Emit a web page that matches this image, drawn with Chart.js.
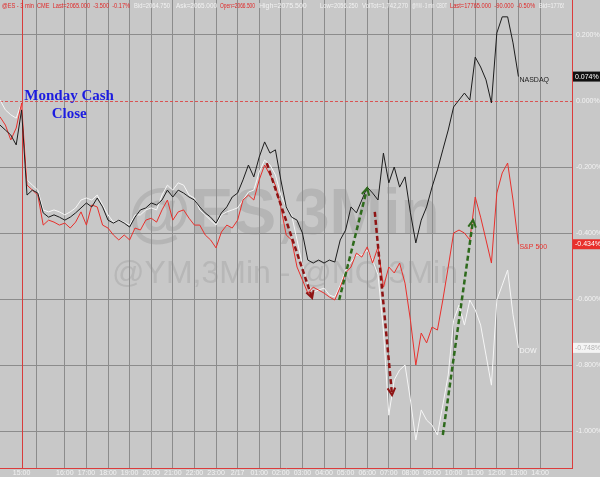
<!DOCTYPE html>
<html>
<head>
<meta charset="utf-8">
<script src="https://cdn.jsdelivr.net/npm/chart.js@4.4.1/dist/chart.umd.min.js"></script>
<style>
  html, body { margin: 0; padding: 0; background: #c8c8c8; overflow: hidden; }
  canvas { display: block; }
</style>
</head>
<body>
<canvas id="chart" width="600" height="477"></canvas>
<script>
// 3-minute bar index from the start of the window
const bars = [
  0, 5, 10, 15, 20, 25, 30, 35, 40, 45, 50, 55, 60, 65, 70, 75, 80, 85, 90, 95,
  100, 105, 110, 115, 120, 125, 130, 135, 140, 145, 150, 155, 160, 165, 170, 175, 180, 185, 190, 195,
  200, 205, 210, 215, 220, 225, 230, 235, 240, 245, 250, 255, 260, 265, 270, 275, 280, 285, 290, 295,
  300, 305, 310, 315, 320, 325, 330, 335, 340, 345, 350, 355, 360, 365, 370, 375, 380, 385, 390, 395,
  400, 405, 410, 415, 420, 425, 430, 435, 440, 445, 450, 455, 460, 465, 470, 475, 480
];

// % change
const nasdaq = [
  -0.073, -0.088, -0.103, -0.133, -0.027, -0.285, -0.270, -0.279, -0.339, -0.352,
  -0.345, -0.352, -0.361, -0.352, -0.339, -0.324, -0.309, -0.321, -0.294, -0.321,
  -0.361, -0.370, -0.361, -0.370, -0.382, -0.352, -0.330, -0.324, -0.309, -0.315,
  -0.300, -0.270, -0.291, -0.270, -0.279, -0.291, -0.300, -0.321, -0.339, -0.352,
  -0.370, -0.339, -0.321, -0.291, -0.279, -0.239, -0.194, -0.230, -0.170, -0.124,
  -0.158, -0.148, -0.239, -0.321, -0.352, -0.361, -0.400, -0.482, -0.491, -0.482,
  -0.491, -0.482, -0.488, -0.421, -0.391, -0.321, -0.339, -0.300, -0.261, -0.279,
  -0.300, -0.158, -0.248, -0.200, -0.261, -0.230, -0.339, -0.430, -0.361, -0.321,
  -0.261, -0.209, -0.148, -0.088, -0.018, 0.003, 0.024, 0.003, 0.133, 0.103,
  0.064, -0.006, 0.206, 0.255, 0.255, 0.176, 0.074
];

const sp500 = [
  -0.048, -0.073, -0.118, -0.082, -0.006, -0.255, -0.270, -0.285, -0.376, -0.361,
  -0.367, -0.376, -0.370, -0.385, -0.367, -0.336, -0.376, -0.315, -0.321, -0.376,
  -0.385, -0.406, -0.421, -0.406, -0.421, -0.385, -0.391, -0.361, -0.355, -0.367,
  -0.330, -0.300, -0.361, -0.336, -0.330, -0.355, -0.376, -0.376, -0.406, -0.421,
  -0.445, -0.397, -0.376, -0.385, -0.361, -0.300, -0.285, -0.300, -0.239, -0.194,
  -0.224, -0.255, -0.321, -0.406, -0.421, -0.503, -0.542, -0.582, -0.564, -0.573,
  -0.582, -0.594, -0.603, -0.564, -0.521, -0.503, -0.461, -0.473, -0.442, -0.491,
  -0.442, -0.564, -0.503, -0.521, -0.491, -0.552, -0.664, -0.800, -0.703, -0.733,
  -0.685, -0.694, -0.603, -0.503, -0.400, -0.391, -0.400, -0.421, -0.291, -0.352,
  -0.421, -0.491, -0.279, -0.218, -0.188, -0.300, -0.434
];

const dow = [
  0.003, -0.027, -0.042, -0.052, -0.006, -0.239, -0.255, -0.270, -0.330, -0.336,
  -0.330, -0.336, -0.345, -0.336, -0.324, -0.300, -0.294, -0.300, -0.285, -0.315,
  -0.345, -0.367, -0.361, -0.367, -0.376, -0.345, -0.345, -0.330, -0.324, -0.330,
  -0.285, -0.255, -0.270, -0.248, -0.255, -0.285, -0.294, -0.330, -0.345, -0.361,
  -0.376, -0.345, -0.336, -0.330, -0.324, -0.300, -0.276, -0.270, -0.215, -0.179,
  -0.194, -0.224, -0.285, -0.321, -0.345, -0.421, -0.497, -0.558, -0.579, -0.573,
  -0.567, -0.588, -0.594, -0.558, -0.512, -0.488, -0.467, -0.467, -0.452, -0.482,
  -0.527, -0.694, -0.952, -0.845, -0.815, -0.800, -0.906, -1.027, -0.936, -0.967,
  -0.982, -1.012, -0.921, -0.830, -0.664, -0.618, -0.679, -0.603, -0.633, -0.679,
  -0.770, -0.861, -0.603, -0.558, -0.512, -0.648, -0.748
];

const seriesNames = ['NASDAQ', 'S&P 500', 'DOW'];
const seriesColors = ['#1c1c1c', '#e8302c', '#f6f6f6'];
const lastLabels = ['0.074%', '-0.434%', '-0.748%'];

const xTickBars = [20, 34, 60, 80, 100, 120, 140, 160, 180, 200, 220, 240, 260, 280, 300, 320, 340, 360, 380, 400, 420, 440, 460, 480, 500];
const xTickLabels = ['15:00', '', '16:00', '17:00', '18:00', '19:00', '20:00', '21:00', '22:00', '23:00', '2/17', '01:00', '02:00', '03:00',
  '04:00', '05:00', '06:00', '07:00', '08:00', '09:00', '10:00', '11:00', '12:00', '13:00', '14:00'];
const yTicks = [0.2, 0, -0.2, -0.4, -0.6, -0.8, -1.0];
const cashCloseBar = 20;

// [text, colour, left, right]
const headerRuns = [
  ['@ES - 3 min  CME  Last=2065.000  -3.500  -0.17%', '#e02828', 2, 130],
  ['Bid=2064.750', '#f2f2f2', 134, 170],
  ['Ask=2065.000', '#f2f2f2', 176, 217],
  ['Open=2066.500', '#e02828', 220, 255],
  ['High=2075.500', '#f2f2f2', 259, 315],
  ['Low=2056.250', '#f2f2f2', 320, 358],
  ['VolTot=1,742,270', '#f2f2f2', 362, 408],
  ['@YM - 3 min  CBOT', '#f2f2f2', 412, 447],
  ['Last=17765.000  -90.000  -0.50%', '#e02828', 450, 535],
  ['Bid=17765.000', '#f2f2f2', 539, 577]
];

// arrows: [fromBar, fromPct, toBar, toPct, color]
const arrows = [
  [247, -0.188, 289, -0.597, '#8e1414'],
  [314, -0.603, 340, -0.264, '#2e6a1c'],
  [347, -0.336, 363, -0.891, '#8e1414'],
  [410, -1.012, 438, -0.361, '#2e6a1c']
];

const pts = (vals) => bars.map((b, i) => ({ x: b, y: vals[i] }));

const decor = {
  id: 'decor',
  beforeDraw(chart) {
    const c = chart.ctx;
    c.save();
    c.fillStyle = '#c8c8c8';
    c.fillRect(0, 0, chart.width, chart.height);
    c.textAlign = 'center';
    c.textBaseline = 'alphabetic';
    c.fillStyle = '#b5b5b5';
    c.font = 'bold 64px "Liberation Sans", Arial, sans-serif';
    c.fillText('@ES,3Min', 284, 234);
    c.fillStyle = '#b7b7b7';
    c.font = '32px "Liberation Sans", Arial, sans-serif';
    c.fillText('@YM,3Min - @NQ,3Min', 285, 283);
    c.restore();
  },
  beforeDatasetsDraw(chart) {
    const c = chart.ctx, a = chart.chartArea;
    const y0 = Math.round(chart.scales.y.getPixelForValue(0)) + 0.5;
    const xc = Math.round(chart.scales.x.getPixelForValue(cashCloseBar)) + 0.5;
    c.save();
    c.strokeStyle = '#d83c3c';
    c.lineWidth = 1;
    c.beginPath();
    c.moveTo(xc, a.top);
    c.lineTo(xc, a.bottom);
    c.stroke();
    c.strokeStyle = 'rgba(220,70,70,0.9)';
    c.setLineDash([3, 2]);
    c.beginPath();
    c.moveTo(a.left, y0);
    c.lineTo(a.right, y0);
    c.stroke();
    c.restore();
  },
  afterDraw(chart) {
    const c = chart.ctx, xs = chart.scales.x, ys = chart.scales.y, a = chart.chartArea;
    c.save();

    // header
    c.save();
    c.beginPath();
    c.rect(0, 0, 564, 12);
    c.clip();
    c.font = '7px "Liberation Sans", Arial, sans-serif';
    c.textBaseline = 'middle';
    c.textAlign = 'left';
    headerRuns.forEach(([t, col, x0, x1]) => {
      c.fillStyle = col;
      c.fillText(t, x0, 6, x1 - x0);
    });
    c.restore();

    // annotation text
    c.fillStyle = '#1c1ce0';
    c.font = 'bold 15px "Liberation Serif", "Times New Roman", serif';
    c.textAlign = 'center';
    c.textBaseline = 'alphabetic';
    const tx = xs.getPixelForValue(64);
    c.fillText('Monday Cash', tx, 100);
    c.fillText('Close', tx, 118);

    // arrows
    arrows.forEach(([b0, v0, b1, v1, col]) => {
      const x0 = xs.getPixelForValue(b0), y0 = ys.getPixelForValue(v0);
      const x1 = xs.getPixelForValue(b1), y1 = ys.getPixelForValue(v1);
      const ang = Math.atan2(y1 - y0, x1 - x0);
      c.strokeStyle = col;
      c.lineWidth = 2.5;
      c.setLineDash([5, 3]);
      c.beginPath();
      c.moveTo(x0, y0);
      c.lineTo(x1, y1);
      c.stroke();
      c.setLineDash([]);
      c.lineWidth = 2;
      c.beginPath();
      c.moveTo(x1 - 8 * Math.cos(ang - 0.5), y1 - 8 * Math.sin(ang - 0.5));
      c.lineTo(x1, y1);
      c.lineTo(x1 - 8 * Math.cos(ang + 0.5), y1 - 8 * Math.sin(ang + 0.5));
      c.stroke();
    });

    // series end labels and value boxes
    const lasts = [nasdaq, sp500, dow].map(s => s[s.length - 1]);
    c.font = '7px "Liberation Sans", Arial, sans-serif';
    c.textBaseline = 'middle';
    lasts.forEach((v, i) => {
      const y = ys.getPixelForValue(v);
      c.textAlign = 'left';
      c.fillStyle = i === 2 ? '#f4f4f4' : seriesColors[i];
      c.fillText(seriesNames[i], xs.getPixelForValue(bars[bars.length - 1]) + 1, y + 3);
      const bg = ['#111111', '#e8302c', '#f4f4f4'][i];
      const fg = ['#ffffff', '#ffffff', '#b4b4b4'][i];
      c.fillStyle = bg;
      c.fillRect(a.right + 1, y - 5, 27, 10);
      c.fillStyle = fg;
      c.fillText(lastLabels[i], a.right + 3, y);
    });
    c.restore();
  }
};

new Chart(document.getElementById('chart'), {
  type: 'line',
  data: {
    datasets: [
      { label: seriesNames[0], data: pts(nasdaq), borderColor: seriesColors[0], borderWidth: 1, pointRadius: 0, tension: 0 },
      { label: seriesNames[1], data: pts(sp500), borderColor: seriesColors[1], borderWidth: 1, pointRadius: 0, tension: 0 },
      { label: seriesNames[2], data: pts(dow), borderColor: seriesColors[2], borderWidth: 1, pointRadius: 0, tension: 0 }
    ]
  },
  options: {
    responsive: false,
    devicePixelRatio: 1,
    animation: false,
    layout: { padding: 0 },
    plugins: { legend: { display: false }, tooltip: { enabled: false } },
    scales: {
      x: {
        type: 'linear',
        min: 0,
        max: 529.6,
        afterBuildTicks: (s) => { s.ticks = xTickBars.map(v => ({ value: v })); },
        afterFit: (s) => { s.height = 9; s.paddingLeft = 0; s.paddingRight = 0; },
        grid: {
          color: (ctx) => ctx.tick && ctx.tick.value === cashCloseBar ? 'rgba(0,0,0,0)' : '#8c8c8c',
          drawTicks: false,
          tickLength: 0
        },
        border: { display: true, color: '#dc3c3c', width: 1 },
        ticks: {
          autoSkip: false,
          maxRotation: 0,
          padding: 1,
          color: '#f2f2f2',
          font: { size: 7, family: '"Liberation Sans", Arial, sans-serif' },
          callback: (v) => { const i = xTickBars.indexOf(v); return i >= 0 ? xTickLabels[i] : ''; }
        }
      },
      y: {
        position: 'right',
        min: -1.112,
        max: 0.306,
        afterBuildTicks: (s) => { s.ticks = yTicks.map(v => ({ value: v })); },
        afterFit: (s) => { s.width = 28; s.paddingTop = 0; s.paddingBottom = 0; },
        grid: {
          color: (ctx) => ctx.tick && ctx.tick.value === 0 ? 'rgba(0,0,0,0)' : '#8c8c8c',
          drawTicks: false,
          tickLength: 0
        },
        border: { display: true, color: '#dc3c3c', width: 1 },
        ticks: {
          padding: 4,
          color: '#f2f2f2',
          font: { size: 7, family: '"Liberation Sans", Arial, sans-serif' },
          callback: (v) => v.toFixed(3) + '%'
        }
      }
    }
  },
  plugins: [decor]
});
</script>
</body>
</html>
